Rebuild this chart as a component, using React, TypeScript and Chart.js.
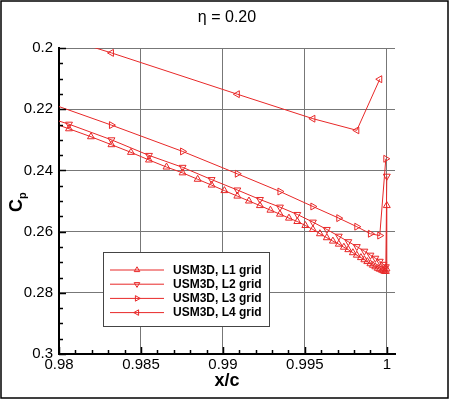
import React, { useEffect, useRef } from "react";
import { Chart, registerables } from "chart.js";

Chart.register(...registerables);

const FONT = "'Liberation Sans', Arial, Helvetica, sans-serif";
const RED = "rgb(232,40,40)";

const titleText = "η = 0.20";
const xAxisTitle = "x/c";
const yAxisTitleMain = "C";
const yAxisTitleSub = "p";

const xTickValues = [0.98, 0.985, 0.99, 0.995, 1.0];
const xTickLabels = ["0.98", "0.985", "0.99", "0.995", "1"];
const yTickValues = [0.2, 0.22, 0.24, 0.26, 0.28, 0.3];
const yTickLabels = ["0.2", "0.22", "0.24", "0.26", "0.28", "0.3"];

const seriesNames = ["USM3D, L1 grid", "USM3D, L2 grid", "USM3D, L3 grid", "USM3D, L4 grid"];
const seriesRotations = [0, 180, 90, -90];

const l1X = [0.97927, 0.98061, 0.98195, 0.9832, 0.98439, 0.98549, 0.98656, 0.98754, 0.98846, 0.98931, 0.99009, 0.99088, 0.99159, 0.99226, 0.9929, 0.99348, 0.99403, 0.99454, 0.99503, 0.99549, 0.99592, 0.99634, 0.99671, 0.99707, 0.99738, 0.99765, 0.99793, 0.99817, 0.99842, 0.99863, 0.99881, 0.999, 0.99915, 0.9993, 0.99945, 0.99957, 0.9997, 0.99979, 0.99988, 0.99994, 0.99998, 1.0];
const l1Cp = [0.2239, 0.2264, 0.229, 0.2316, 0.2341, 0.2366, 0.2389, 0.2408, 0.2429, 0.2448, 0.2466, 0.2484, 0.25, 0.2515, 0.253, 0.2543, 0.2556, 0.2567, 0.258, 0.2593, 0.2607, 0.262, 0.2631, 0.2641, 0.2651, 0.2659, 0.2669, 0.2677, 0.2685, 0.2692, 0.2698, 0.2705, 0.271, 0.2715, 0.272, 0.2723, 0.2726, 0.2728, 0.273, 0.273, 0.2722, 0.2515];

const l2X = [0.97787, 0.98061, 0.9832, 0.98549, 0.98754, 0.98931, 0.99088, 0.99226, 0.99348, 0.99454, 0.99549, 0.99634, 0.99707, 0.99765, 0.99817, 0.99863, 0.999, 0.9993, 0.99957, 0.99979, 0.99994, 1.0];
const l2Cp = [0.2203, 0.2249, 0.23, 0.2351, 0.239, 0.243, 0.2464, 0.2495, 0.252, 0.2544, 0.2569, 0.2593, 0.2615, 0.2633, 0.2649, 0.2664, 0.2677, 0.2687, 0.2697, 0.2707, 0.2715, 0.2419];

const l3X = [0.97787, 0.9832, 0.98754, 0.99088, 0.99348, 0.99549, 0.99707, 0.99817, 0.999, 0.99957, 0.99994];
const l3Cp = [0.2151, 0.2252, 0.2338, 0.2411, 0.2469, 0.2518, 0.2556, 0.2584, 0.2607, 0.2613, 0.2362];

const l4X = [0.9735, 0.9832, 0.99088, 0.99549, 0.99817, 0.99957];
const l4Cp = [0.1855, 0.2016, 0.2151, 0.2231, 0.2269, 0.2102];

const seriesX = [l1X, l2X, l3X, l4X];
const seriesCp = [l1Cp, l2Cp, l3Cp, l4Cp];

function drawTriangle(ctx: CanvasRenderingContext2D, x: number, y: number, r: number, rotDeg: number) {
  const base = (rotDeg * Math.PI) / 180;
  ctx.beginPath();
  for (let k = 0; k < 3; k++) {
    const a = base + (k * 2 * Math.PI) / 3;
    const px = x + Math.sin(a) * r;
    const py = y - Math.cos(a) * r;
    if (k === 0) ctx.moveTo(px, py);
    else ctx.lineTo(px, py);
  }
  ctx.closePath();
  ctx.stroke();
}

const decorPlugin = {
  id: "decor",
  afterDraw(chart: any) {
    const ctx: CanvasRenderingContext2D = chart.ctx;
    const xs = chart.scales.x;
    const ys = chart.scales.y;
    const area = chart.chartArea;
    ctx.save();

    // inward tick marks
    ctx.strokeStyle = "#000";
    ctx.lineWidth = 1.5;
    for (let k = 0; k <= 20; k++) {
      const v = 0.98 + k * 0.001;
      const px = Math.round(xs.getPixelForValue(v)) + 0.5;
      const len = k % 5 === 0 ? 7 : 4;
      ctx.beginPath();
      ctx.moveTo(px, area.bottom);
      ctx.lineTo(px, area.bottom - len);
      ctx.stroke();
    }
    for (let k = 0; k <= 20; k++) {
      const v = 0.2 + k * 0.005;
      const py = Math.round(ys.getPixelForValue(v)) + 0.5;
      const len = k % 4 === 0 ? 7 : 4;
      ctx.beginPath();
      ctx.moveTo(area.left, py);
      ctx.lineTo(area.left + len, py);
      ctx.stroke();
    }

    // title
    ctx.fillStyle = "#000";
    ctx.font = `16px ${FONT}`;
    ctx.textAlign = "center";
    ctx.textBaseline = "middle";
    ctx.fillText(titleText, 227, 18);

    // x axis title
    ctx.font = `bold 18px ${FONT}`;
    ctx.fillText(xAxisTitle, 227, 381);

    // y axis title (rotated)
    ctx.save();
    ctx.translate(20, 206);
    ctx.rotate(-Math.PI / 2);
    ctx.textAlign = "left";
    ctx.textBaseline = "alphabetic";
    ctx.font = `bold 18px ${FONT}`;
    ctx.fillText(yAxisTitleMain, -6, 2);
    ctx.font = `bold 11px ${FONT}`;
    ctx.fillText(yAxisTitleSub, 7, 6);
    ctx.restore();

    // legend
    const bx = 103.5, by = 252.5, bw = 166, bh = 74;
    ctx.fillStyle = "#fff";
    ctx.fillRect(bx, by, bw, bh);
    ctx.strokeStyle = "#444";
    ctx.lineWidth = 1;
    ctx.strokeRect(bx, by, bw, bh);
    chart.data.datasets.forEach((ds: any, i: number) => {
      const yy = 270 + i * 14.2;
      ctx.strokeStyle = RED;
      ctx.lineWidth = 1;
      ctx.beginPath();
      ctx.moveTo(110, yy);
      ctx.lineTo(164, yy);
      ctx.stroke();
      drawTriangle(ctx, 137, yy, 3.2, seriesRotations[i]);
      ctx.fillStyle = "#000";
      ctx.font = `bold 12px ${FONT}`;
      ctx.textAlign = "left";
      ctx.textBaseline = "middle";
      ctx.fillText(ds.label, 173, yy + 0.5);
    });

    // outer frame
    ctx.strokeStyle = "#000";
    ctx.lineWidth = 1.5;
    ctx.strokeRect(1, 1, 447, 397);
    ctx.restore();
  },
};

export default function App() {
  const canvasRef = useRef<HTMLCanvasElement | null>(null);

  useEffect(() => {
    if (!canvasRef.current) return;
    const datasets = seriesNames.map((name, i) => ({
      label: name,
      data: seriesX[i].map((x, j) => ({ x, y: seriesCp[i][j] })),
      showLine: true,
      borderColor: RED,
      borderWidth: 1,
      pointStyle: "triangle",
      pointRotation: seriesRotations[i],
      pointRadius: 4,
      pointBorderWidth: 1,
      pointBorderColor: RED,
      pointBackgroundColor: "rgba(0,0,0,0)",
      tension: 0,
    }));

    const chart = new Chart(canvasRef.current, {
      type: "scatter",
      data: { datasets },
      options: {
        animation: false,
        responsive: false,
        devicePixelRatio: window.devicePixelRatio || 1,
        layout: { padding: { top: 48, right: 55, left: 0, bottom: 0 } },
        plugins: {
          legend: { display: false },
          title: { display: false },
          tooltip: { enabled: false },
        },
        scales: {
          x: {
            type: "linear",
            min: 0.98,
            max: 1.0005,
            afterFit: (s: any) => {
              s.height = 46;
            },
            afterBuildTicks: (s: any) => {
              s.ticks = xTickValues.map((v) => ({ value: v }));
            },
            ticks: {
              autoSkip: false,
              maxRotation: 0,
              minRotation: 0,
              padding: 2,
              color: "#000",
              font: { family: FONT, size: 15 },
              callback: (_v: any, idx: number) => xTickLabels[idx],
            },
            grid: { color: "#777", lineWidth: 1, drawTicks: false },
            border: { display: true, color: "#000", width: 2 },
          },
          y: {
            type: "linear",
            reverse: true,
            min: 0.2,
            max: 0.3,
            afterFit: (s: any) => {
              s.width = 59;
            },
            afterBuildTicks: (s: any) => {
              s.ticks = yTickValues.map((v) => ({ value: v }));
            },
            ticks: {
              autoSkip: false,
              padding: 6,
              color: "#000",
              font: { family: FONT, size: 15 },
              callback: (_v: any, idx: number) => yTickLabels[idx],
            },
            grid: { color: "#777", lineWidth: 1, drawTicks: false },
            border: { display: true, color: "#000", width: 2 },
          },
        },
      },
      plugins: [decorPlugin],
    } as any);

    return () => chart.destroy();
  }, []);

  return (
    <div style={{ position: "fixed", left: 0, top: 0, width: 450, height: 400, background: "#fff" }}>
      <canvas ref={canvasRef} width={450} height={400} style={{ width: 450, height: 400 }} />
    </div>
  );
}
